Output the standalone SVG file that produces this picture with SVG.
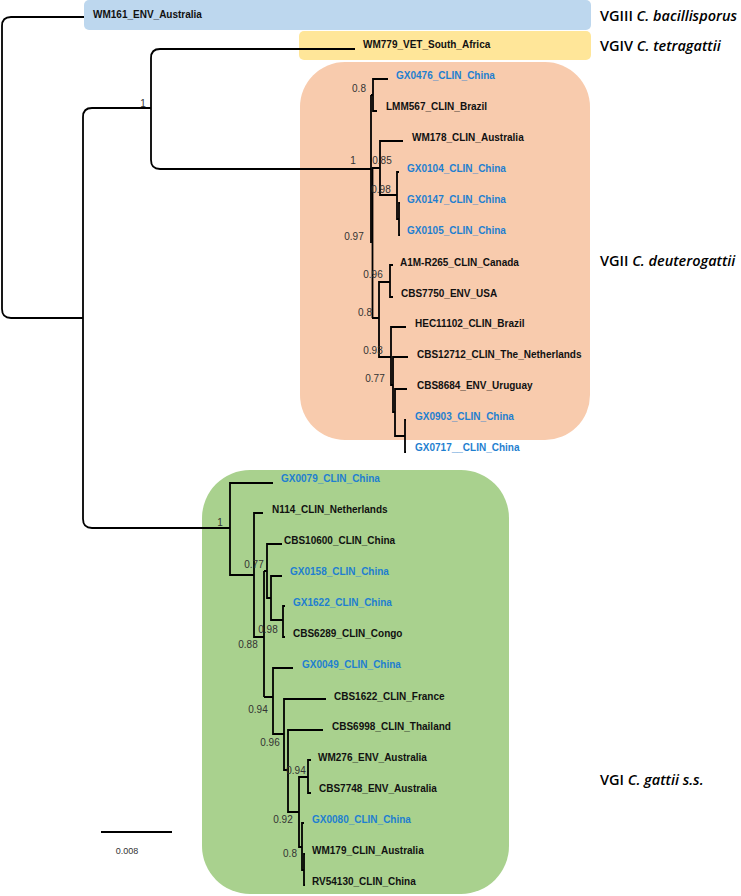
<svg xmlns="http://www.w3.org/2000/svg" width="741" height="896" viewBox="0 0 741 896">
<style>
.bg{stroke:none}
.br{fill:none;stroke:#000;stroke-width:1.8;stroke-linejoin:miter}
.tip{font-family:"Liberation Sans",Arial,sans-serif;font-size:10px;font-weight:bold;fill:#111}
.cn{fill:#1f7fd0}
.bs{font-family:"Liberation Sans",Arial,sans-serif;font-size:10px;fill:#333;text-anchor:middle}
.cl{font-family:"Open Sans",sans-serif;font-size:14.5px;font-weight:600;fill:#000}
.sc{font-family:"Liberation Sans",Arial,sans-serif;font-size:9px;fill:#333;text-anchor:middle}
</style>
<rect width="741" height="896" fill="#fff"/>
<g id="clades">
<rect id="vgiii-bg" class="bg" x="84" y="0" width="507" height="30" rx="5" fill="#bdd7ee"/>
<rect id="vgiv-bg" class="bg" x="299" y="31" width="292" height="29" rx="5" fill="#ffe699"/>
<rect id="vgii-bg" class="bg" x="300" y="62" width="290" height="378" rx="45" fill="#f8cbad"/>
<rect id="vgi-bg" class="bg" x="202" y="470" width="307" height="424" rx="48" fill="#a9d18e"/>
</g>
<g id="connectors">
<path class="br" d="M84,17 H11 Q2,17 2,26 V309 Q2,318 11,318 H83"/>
<path class="br" d="M151,108 H92 Q83,108 83,117 V519 Q83,528 92,528 H230"/>
<path class="br" d="M355,49 H160 Q151,49 151,58 V160 Q151,169 160,169 H371"/>
<path class="br" d="M371,95 V243"/>
<path class="br" d="M371,95 H373 M388,79 H373 V111 H377"/>
<path class="br" d="M372.5,168 V318"/>
<path class="br" d="M372,168 H380 M403,141 H380 V195 H397"/>
<path class="br" d="M399,172 H397 V219 H399 M400,203 H399 V235 H400"/>
<path class="br" d="M372,318 H379 M390,282 H379 V357 H391"/>
<path class="br" d="M393,265 H390 V297 H393"/>
<path class="br" d="M406,327 H391 V385 H393 M408,357 H393 V412 H395 M407,389 H395 V436 H405 M406,420 H405 V452 H406"/>
<path class="br" d="M273,483 H230 V575 H254"/>
<path class="br" d="M263,513 H254 V637 H264"/>
<path class="br" d="M264,571 V697"/>
<path class="br" d="M264,571 H267 M282,544 H267 V598 H271 M282,576 H271 V620 H283 M285,606 H283 V637 H285"/>
<path class="br" d="M264,697 H273 M293,668 H273 V734 H284 M326,699 H284 V770 H288 M323,730 H288 V812 H299"/>
<path class="br" d="M308,777 H299 V847 H302 M311,760 H308 V793 H311"/>
<path class="br" d="M304,823 H302 V870 H304 M305,854 H304 V885 H305"/>
<path class="br" d="M101,832 H172"/>
</g>
<g id="support">
<text class="bs" x="143" y="106.5">1</text>
<text class="bs" x="359" y="91.5">0.8</text>
<text class="bs" x="353" y="163.5">1</text>
<text class="bs" x="382" y="163.5">0.85</text>
<text class="bs" x="381" y="192.5">0.98</text>
<text class="bs" x="354" y="239.5">0.97</text>
<text class="bs" x="373" y="277.5">0.96</text>
<text class="bs" x="365" y="315.5">0.8</text>
<text class="bs" x="373" y="353.5">0.93</text>
<text class="bs" x="375" y="381.5">0.77</text>
<text class="bs" x="220" y="525.5">1</text>
<text class="bs" x="254" y="567.5">0.77</text>
<text class="bs" x="268" y="632.5">0.98</text>
<text class="bs" x="248" y="647.5">0.88</text>
<text class="bs" x="258" y="712.5">0.94</text>
<text class="bs" x="270" y="745.5">0.96</text>
<text class="bs" x="296" y="773.5">0.94</text>
<text class="bs" x="283" y="822.5">0.92</text>
<text class="bs" x="290" y="856.5">0.8</text>
</g>
<g id="tips">
<g id="WM161"><text class="tip" x="93" y="17.5">WM161_ENV_Australia</text></g>
<g id="WM779"><text class="tip" x="363" y="48">WM779_VET_South_Africa</text></g>
<g id="GX0476"><text class="tip cn" x="396" y="79">GX0476_CLIN_China</text></g>
<g id="LMM567"><text class="tip" x="386" y="110">LMM567_CLIN_Brazil</text></g>
<g id="WM178"><text class="tip" x="412" y="141">WM178_CLIN_Australia</text></g>
<g id="GX0104"><text class="tip cn" x="407" y="172">GX0104_CLIN_China</text></g>
<g id="GX0147"><text class="tip cn" x="407" y="203">GX0147_CLIN_China</text></g>
<g id="GX0105"><text class="tip cn" x="407" y="234">GX0105_CLIN_China</text></g>
<g id="A1M-R265"><text class="tip" x="400" y="265.5">A1M-R265_CLIN_Canada</text></g>
<g id="CBS7750"><text class="tip" x="401" y="296.5">CBS7750_ENV_USA</text></g>
<g id="HEC11102"><text class="tip" x="415" y="327">HEC11102_CLIN_Brazil</text></g>
<g id="CBS12712"><text class="tip" x="417" y="358">CBS12712_CLIN_The_Netherlands</text></g>
<g id="CBS8684"><text class="tip" x="417" y="389">CBS8684_ENV_Uruguay</text></g>
<g id="GX0903"><text class="tip cn" x="415" y="420">GX0903_CLIN_China</text></g>
<g id="GX0717"><text class="tip cn" x="415" y="451">GX0717__CLIN_China</text></g>
<g id="GX0079"><text class="tip cn" x="281" y="482">GX0079_CLIN_China</text></g>
<g id="N114"><text class="tip" x="272" y="513">N114_CLIN_Netherlands</text></g>
<g id="CBS10600"><text class="tip" x="284" y="544">CBS10600_CLIN_China</text></g>
<g id="GX0158"><text class="tip cn" x="290" y="575">GX0158_CLIN_China</text></g>
<g id="GX1622"><text class="tip cn" x="293" y="606">GX1622_CLIN_China</text></g>
<g id="CBS6289"><text class="tip" x="293" y="637">CBS6289_CLIN_Congo</text></g>
<g id="GX0049"><text class="tip cn" x="302" y="668">GX0049_CLIN_China</text></g>
<g id="CBS1622"><text class="tip" x="334" y="699.5">CBS1622_CLIN_France</text></g>
<g id="CBS6998"><text class="tip" x="332" y="730">CBS6998_CLIN_Thailand</text></g>
<g id="WM276"><text class="tip" x="318" y="761">WM276_ENV_Australia</text></g>
<g id="CBS7748"><text class="tip" x="319" y="792">CBS7748_ENV_Australia</text></g>
<g id="GX0080"><text class="tip cn" x="312" y="823">GX0080_CLIN_China</text></g>
<g id="WM179"><text class="tip" x="312" y="854">WM179_CLIN_Australia</text></g>
<g id="RV54130"><text class="tip" x="312" y="885">RV54130_CLIN_China</text></g>
</g>
<g id="clade-labels">
<text class="cl" x="600" y="21">VGIII <tspan font-style="italic">C. bacillisporus</tspan></text>
<text class="cl" x="600" y="51">VGIV <tspan font-style="italic">C. tetragattii</tspan></text>
<text class="cl" x="600" y="266">VGII <tspan font-style="italic">C. deuterogattii</tspan></text>
<text class="cl" x="600" y="785">VGI <tspan font-style="italic">C. gattii s.s.</tspan></text>
</g>
<g id="scale">
<text class="sc" x="127" y="854">0.008</text>
</g>
</svg>
